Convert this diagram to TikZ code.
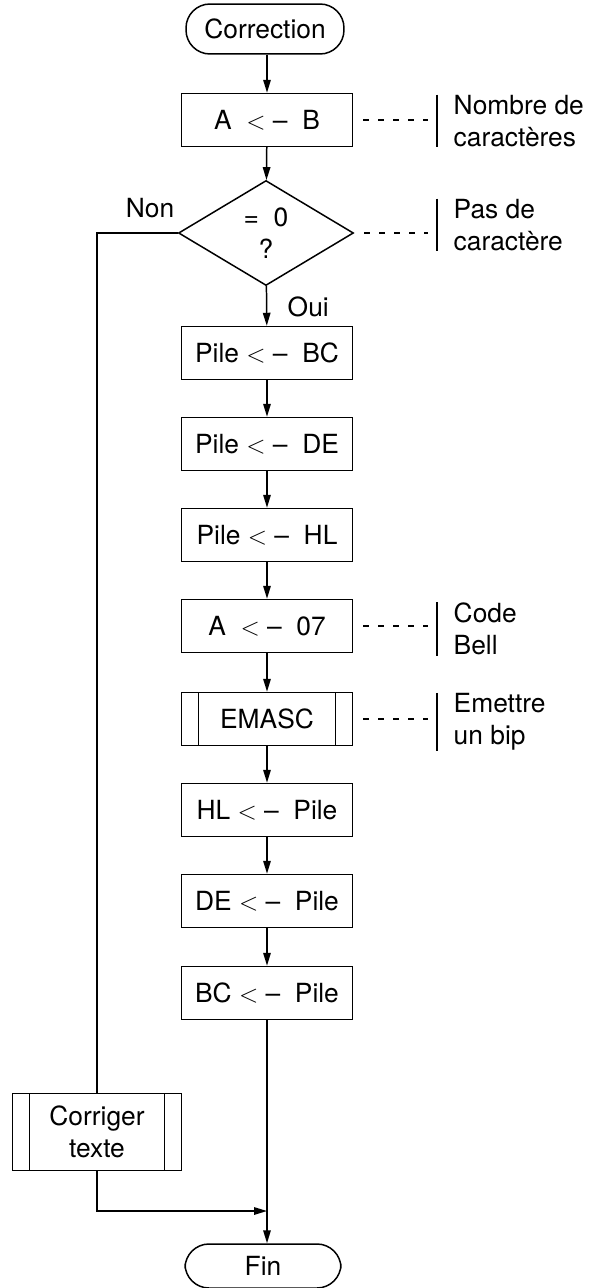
\documentclass[tikz,border=0pt]{standalone}
\usepackage{fontspec}
\setmainfont{TeX Gyre Heros}
\usetikzlibrary{shapes.geometric,arrows.meta}

\newcommand{\prend}{~$<$~--~~}

\begin{document}
\begin{tikzpicture}[
    x=0.02cm, y=-0.02cm,
    line width=0.85pt,
    font=\fontsize{15}{18}\selectfont,
    box/.style={
        draw,
        minimum width=3.42cm,
        minimum height=1.06cm,
        inner sep=0pt,
        align=center
    },
    sub/.style={
        box,
        path picture={
            \draw ([xshift=0.34cm]path picture bounding box.north west)
                -- ([xshift=0.34cm]path picture bounding box.south west)
                ([xshift=-0.34cm]path picture bounding box.north east)
                -- ([xshift=-0.34cm]path picture bounding box.south east);
        }
    },
    term/.style={
        draw,
        rounded corners=0.48cm,
        minimum width=3.16cm,
        minimum height=1.0cm,
        inner sep=0pt
    },
    test/.style={
        draw, diamond,
        minimum width=3.5cm,
        minimum height=2.1cm,
        inner sep=0pt,
        align=center
    },
    note/.style={
        anchor=west,
        align=left,
        inner xsep=0.32cm,
        inner ysep=0pt
    },
    arr/.style={-{Triangle[length=2.6mm,width=1.5mm]}},
    dots/.style={dash pattern=on 0.12cm off 0.18cm, shorten <=0.2cm, shorten >=0.18cm}
]
    \useasboundingbox (0,0) rectangle (589,1288);

    % main column
    \node[term] (start) at (265,29) {Correction};
    \node[box]  (ab)    at (267,120) {A~\prend B};
    \node[test] (zero)  at (266,233) {=~~0\\?};
    \node[box]  (pbc)   at (267,353) {Pile\prend BC};
    \node[box]  (pde)   at (267,444) {Pile\prend DE};
    \node[box]  (phl)   at (267,535) {Pile\prend HL};
    \node[box]  (bell)  at (267,626) {A~\prend 07};
    \node[sub]  (emasc) at (267,719) {EMASC};
    \node[box]  (hlp)   at (267,810) {HL\prend Pile};
    \node[box]  (dep)   at (267,901) {DE\prend Pile};
    \node[box]  (bcp)   at (267,993) {BC\prend Pile};
    \node[term, minimum width=3.12cm, minimum height=0.88cm] (fin) at (263,1266) {Fin};

    % branch
    \node[sub, minimum width=3.38cm, minimum height=1.54cm] (corr) at (97,1132)
        {Corriger\\texte};
    \coordinate (jn) at (267,1211);

    % comments
    \node[note] (nab)    at (437,121) {Nombre de\\caractères};
    \node[note] (nzero)  at (437,225) {Pas de\\caractère};
    \node[note] (nbell)  at (437,629) {Code\\Bell};
    \node[note] (nemasc) at (437,722) {Emettre\\un bip};

    \node[anchor=base east, inner sep=0pt] (non) at (175,217) {Non};
    \node[anchor=base west, inner sep=0pt] (oui) at (287,316) {Oui};

    \foreach \n in {nab,nzero,nbell,nemasc}
        \draw (\n.north west) -- (\n.south west);

    \draw[dots] (ab.east) -- (ab.east -| nab.west);
    \draw[dots] (zero.east) -- (zero.east -| nzero.west);
    \draw[dots] (bell.east) -- (bell.east -| nbell.west);
    \draw[dots] (emasc.east) -- (emasc.east -| nemasc.west);

    \draw[arr] (ab |- start.south) -- (ab);
    \draw[arr] (ab) -- (zero);
    \draw[arr] (zero) -- (pbc);
    \draw[arr] (pbc) -- (pde);
    \draw[arr] (pde) -- (phl);
    \draw[arr] (phl) -- (bell);
    \draw[arr] (bell) -- (emasc);
    \draw[arr] (emasc) -- (hlp);
    \draw[arr] (hlp) -- (dep);
    \draw[arr] (dep) -- (bcp);
    \draw[arr] (bcp) -- (bcp |- fin.north);

    \draw (zero.west) -| (corr.north);
    \draw[arr] (corr.south) |- (jn);
\end{tikzpicture}
\end{document}
